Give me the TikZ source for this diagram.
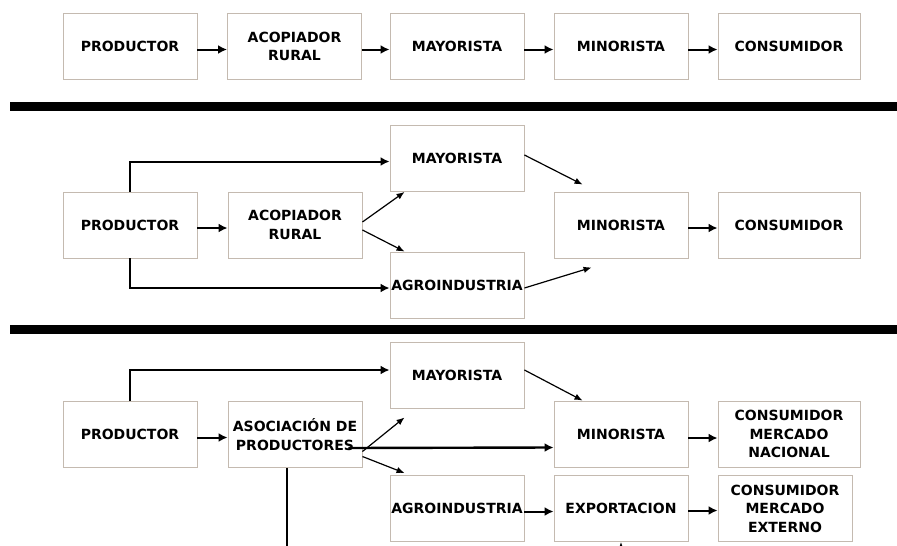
\documentclass[tikz,border=0pt]{standalone}
\usepackage{fontspec}
\setmainfont{DejaVu Sans}
\usepackage{tikz}
\usetikzlibrary{arrows.meta}
\definecolor{boxline}{RGB}{196,186,176}
\tikzset{
	box/.style={draw=boxline,line width=0.9pt,minimum width=134pt,minimum height=66pt,inner sep=1pt,align=center,font=\fontsize{14}{18.5}\selectfont\bfseries},
	wbox/.style={box,minimum width=142pt},
	flow/.style={-{Latex[length=9pt,width=9pt]},line width=2pt},
	tflow/.style={-{Latex[length=8pt,width=6.5pt]},line width=1.2pt},
	bar/.style={fill=black}
}

\begin{document}
\begin{tikzpicture}[x=1pt,y=-1pt]%[scale=1.5]
						\useasboundingbox (0,0) rectangle (897,546);
						\node [box] (p1) at (130,46.5) {PRODUCTOR};
						\node [box] (a1) at (294.5,46.5) {ACOPIADOR\\RURAL};
						\node [box] (m1) at (457,46.5) {MAYORISTA};
						\node [box] (n1) at (621,46.5) {MINORISTA};
						\node [wbox] (c1) at (789,46.5) {CONSUMIDOR};

						\draw [flow] ([yshift=-3pt]p1.east) -- ([yshift=-3pt]a1.west);
						\draw [flow] ([yshift=-3pt]a1.east) -- ([yshift=-3pt]m1.west);
						\draw [flow] ([yshift=-3pt]m1.east) -- ([yshift=-3pt]n1.west);
						\draw [flow] ([yshift=-3pt]n1.east) -- ([yshift=-3pt]c1.west);

						\fill [bar] (10,102) rectangle (897,111);

						\node [box] (p2) at (130,225) {PRODUCTOR};
						\node [box] (a2) at (295,225) {ACOPIADOR\\RURAL};
						\node [box] (m2) at (457,158.5) {MAYORISTA};
						\node [box] (g2) at (457,285) {AGROINDUSTRIA};
						\node [box] (n2) at (621,225) {MINORISTA};
						\node [wbox] (c2) at (789,225) {CONSUMIDOR};

						\draw [flow] (p2.north) |- ([yshift=-3pt]m2.west);
						\draw [flow] (p2.south) |- ([yshift=-3pt]g2.west);
						\draw [flow] ([yshift=-3pt]p2.east) -- ([yshift=-3pt]a2.west);
						\draw [tflow] ([yshift=3pt]a2.east) -- ([xshift=15pt]m2.south west);
						\draw [tflow] ([yshift=-5pt]a2.east) -- ([xshift=15pt]g2.north west);
						\draw [tflow] ([yshift=3.5pt]m2.east) -- ([shift={(29pt,7pt)}]n2.north west);
						\draw [tflow] ([yshift=-3pt]g2.east) -- ([shift={(38pt,-9pt)}]n2.south west);
						\draw [flow] ([yshift=-3pt]n2.east) -- ([yshift=-3pt]c2.west);

						\fill [bar] (10,325) rectangle (897,334);

						\node [box] (m3) at (457,375) {MAYORISTA};
						\node [box] (p3) at (130,434.5) {PRODUCTOR};
						\node [box] (s3) at (295,434.5) {ASOCIACIÓN DE\\PRODUCTORES};
						\node [box] (g3) at (457,508.5) {AGROINDUSTRIA};
						\node [box] (n3) at (621,434) {MINORISTA};
						\node [wbox] (c3) at (789,434) {CONSUMIDOR\\MERCADO\\NACIONAL};
						\node [box] (e3) at (621,508.5) {EXPORTACION};
						\node [box] (x3) at (785,508.5) {CONSUMIDOR\\MERCADO\\EXTERNO};
						\coordinate (s3out) at (287,560);
						\coordinate (e3in) at (621,560);

						\draw [flow] (p3.north) |- ([yshift=5pt]m3.west);
						\draw [flow] ([yshift=-3pt]p3.east) -- ([yshift=-3pt]s3.west);
						\draw [tflow] ([yshift=-17pt]s3.east) -- ([shift={(15pt,-9pt)}]m3.south west);
						\draw [flow,line width=2.4pt] ([shift={(-14pt,-13.5pt)}]s3.east) -- ([yshift=-13.5pt]n3.west);
						\draw [tflow] ([yshift=-22pt]s3.east) -- ([shift={(15pt,2pt)}]g3.north west);
						\draw [line width=1.2pt] ([xshift=-8pt]s3.south) -- (s3out);
						\draw [tflow] ([yshift=5pt]m3.east) -- ([xshift=29pt]n3.north west);
						\draw [flow] ([yshift=-4pt]n3.east) -- ([yshift=-4pt]c3.west);
						\draw [flow] ([yshift=-3pt]g3.east) -- ([yshift=-3pt]e3.west);
						\draw [flow] ([yshift=-2pt]e3.east) -- ([yshift=-2pt]x3.west);
						\draw [tflow] (e3in) -- (e3.south);
					\end{tikzpicture}
\end{document}
